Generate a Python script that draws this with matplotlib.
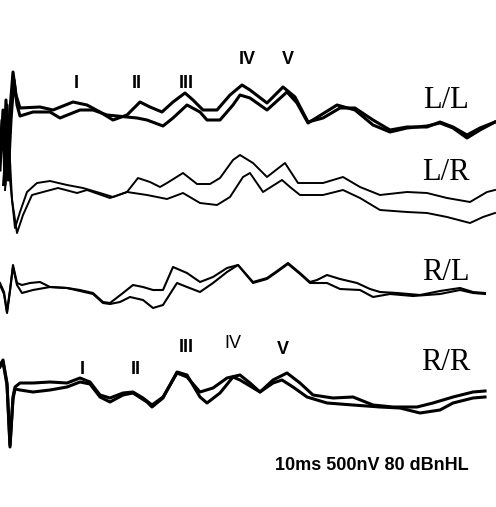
import matplotlib
matplotlib.use("Agg")
import matplotlib.pyplot as plt

# traces, in pixel units (x right, y down)
ll_a_x = [0, 2, 4, 6, 8, 10, 13, 16, 20, 40, 53, 73, 87, 100, 113, 127, 140, 150, 162, 173, 185, 193, 203, 217, 230, 242,
          250, 267, 283, 295, 308, 323, 340, 355, 373, 390, 407, 427, 440, 453, 467, 480, 495]
ll_a_y = [155, 120, 150, 100, 180, 110, 72, 95, 108, 107, 110, 102, 105, 112, 120, 115, 102, 107, 112, 102, 93, 100, 110, 110, 95, 85,
          90, 103, 87, 97, 122, 118, 108, 108, 120, 130, 127, 127, 122, 127, 135, 128, 122]
ll_b_x = [0, 3, 5, 7, 9, 11, 14, 17, 20, 33, 50, 60, 80, 93, 107, 127, 137, 147, 163, 173, 187, 200, 207, 220, 233, 240,
          250, 267, 287, 297, 308, 337, 355, 373, 390, 407, 427, 440, 453, 467, 480, 495]
ll_b_y = [170, 110, 185, 105, 160, 120, 80, 105, 116, 112, 112, 118, 110, 110, 115, 117, 118, 120, 126, 118, 105, 112, 120, 120, 105, 95,
          98, 110, 92, 103, 123, 105, 110, 125, 132, 128, 126, 123, 128, 138, 130, 122]

lr_a_x = [3, 7, 10, 15, 20, 27, 37, 50, 67, 83, 100, 113, 127, 138, 150, 160, 167, 183, 197, 210, 220, 233, 240,
          253, 267, 285, 298, 323, 343, 360, 380, 407, 427, 447, 470, 487, 495]
lr_a_y = [185, 130, 180, 228, 212, 192, 183, 181, 185, 188, 193, 197, 192, 178, 182, 187, 183, 173, 184, 184, 178, 160, 155,
          163, 177, 163, 183, 183, 177, 187, 195, 192, 193, 198, 202, 192, 190]
lr_b_x = [5, 9, 12, 17, 23, 32, 43, 58, 77, 87, 110, 127, 147, 167, 183, 200, 217, 230, 243, 250,
          263, 282, 290, 300, 323, 343, 360, 380, 407, 427, 447, 470, 483, 495]
lr_b_y = [190, 140, 200, 233, 215, 195, 192, 188, 193, 190, 198, 192, 195, 199, 193, 203, 205, 197, 177, 173,
          192, 180, 187, 195, 195, 190, 198, 210, 212, 213, 217, 223, 217, 213]

rl_a_x = [0, 4, 7, 10, 13, 17, 22, 30, 40, 50, 67, 80, 93, 103, 110, 123, 133, 143, 153, 163, 173, 187, 200, 213, 227, 238,
          253, 267, 277, 288, 300, 310, 317, 327, 340, 357, 370, 380, 397, 420, 440, 460, 473, 485]
rl_a_y = [283, 292, 312, 290, 265, 283, 285, 283, 282, 287, 288, 290, 293, 302, 303, 293, 285, 287, 290, 290, 267, 273, 282, 277, 268, 265,
          282, 278, 271, 263, 273, 282, 280, 275, 279, 283, 289, 292, 293, 295, 291, 288, 292, 293]
rl_b_x = [0, 4, 7, 10, 13, 17, 22, 33, 50, 67, 80, 93, 103, 110, 120, 130, 143, 153, 163, 177, 187, 200, 213, 227, 238,
          253, 267, 277, 288, 300, 310, 327, 340, 360, 373, 390, 413, 440, 460, 473, 485]
rl_b_y = [285, 294, 313, 291, 267, 285, 293, 290, 287, 288, 291, 294, 303, 304, 302, 297, 300, 308, 305, 283, 287, 292, 283, 272, 265,
          283, 279, 272, 264, 274, 283, 283, 289, 290, 297, 294, 296, 294, 290, 293, 294]

rr_a_x = [0, 3, 7, 10, 13, 15, 20, 33, 50, 67, 80, 90, 100, 110, 123, 133, 143, 152, 163, 177, 187, 200, 213, 227, 240,
          250, 260, 273, 287, 300, 313, 333, 353, 373, 393, 417, 433, 453, 473, 485]
rr_a_y = [365, 360, 383, 447, 397, 387, 383, 383, 382, 383, 378, 382, 395, 398, 393, 392, 398, 405, 397, 373, 377, 392, 388, 378, 375,
          383, 392, 380, 373, 383, 395, 398, 397, 405, 407, 407, 403, 397, 392, 391]
rr_b_x = [0, 3, 7, 10, 13, 15, 20, 33, 50, 67, 80, 90, 100, 110, 123, 133, 147, 152, 163, 177, 187, 200, 207, 220, 233, 240,
          260, 273, 282, 293, 307, 327, 353, 380, 400, 420, 440, 453, 473, 485]
rr_b_y = [367, 362, 385, 445, 399, 389, 390, 392, 390, 387, 382, 384, 397, 402, 395, 393, 402, 407, 398, 372, 375, 397, 403, 393, 377, 380,
          392, 383, 380, 387, 397, 403, 405, 407, 408, 413, 410, 403, 398, 397]

panel_names = ["L/L", "L/R", "R/L", "R/R"]
panel_name_y = [100, 173, 272, 362]

top_waves = ["I", "II", "III", "IV", "V"]
top_wave_x = [76, 137, 186, 247, 288]
top_wave_y = [83, 83, 83, 59, 59]
bot_waves = ["I", "II", "III", "IV", "V"]
bot_wave_x = [82, 136, 186, 233, 283]
bot_wave_y = [369, 370, 348, 344, 349]
bot_wave_bold = [True, True, True, False, True]

fig = plt.figure(figsize=(4.96, 5.07), dpi=100)
ax = fig.add_axes([0, 0, 1, 1])
ax.set_xlim(0, 496)
ax.set_ylim(507, 0)
ax.axis("off")

ax.plot(ll_a_x, ll_a_y, color="black", lw=2.2)
ax.plot(ll_b_x, ll_b_y, color="black", lw=2.2)
ax.plot(lr_a_x, lr_a_y, color="black", lw=1.4)
ax.plot(lr_b_x, lr_b_y, color="black", lw=1.4)
ax.plot(rl_a_x, rl_a_y, color="black", lw=1.5)
ax.plot(rl_b_x, rl_b_y, color="black", lw=1.5)
ax.plot(rr_a_x, rr_a_y, color="black", lw=2.2)
ax.plot(rr_b_x, rr_b_y, color="black", lw=2.2)

for name, y in zip(panel_names, panel_name_y):
    ax.text(446, y, name, fontsize=22, family="Liberation Serif", ha="center", va="center")

for lab, x, y in zip(top_waves, top_wave_x, top_wave_y):
    ax.text(x, y, lab, fontsize=13, fontweight="bold", family="Liberation Sans", ha="center", va="center")
for lab, x, y, b in zip(bot_waves, bot_wave_x, bot_wave_y, bot_wave_bold):
    ax.text(x, y, lab, fontsize=13, fontweight="bold" if b else "normal", family="Liberation Sans",
            ha="center", va="center")

ax.text(372, 465, "10ms 500nV 80 dBnHL", fontsize=13, fontweight="bold", family="Liberation Sans",
        ha="center", va="center")

fig.savefig("out.png", dpi=100)
